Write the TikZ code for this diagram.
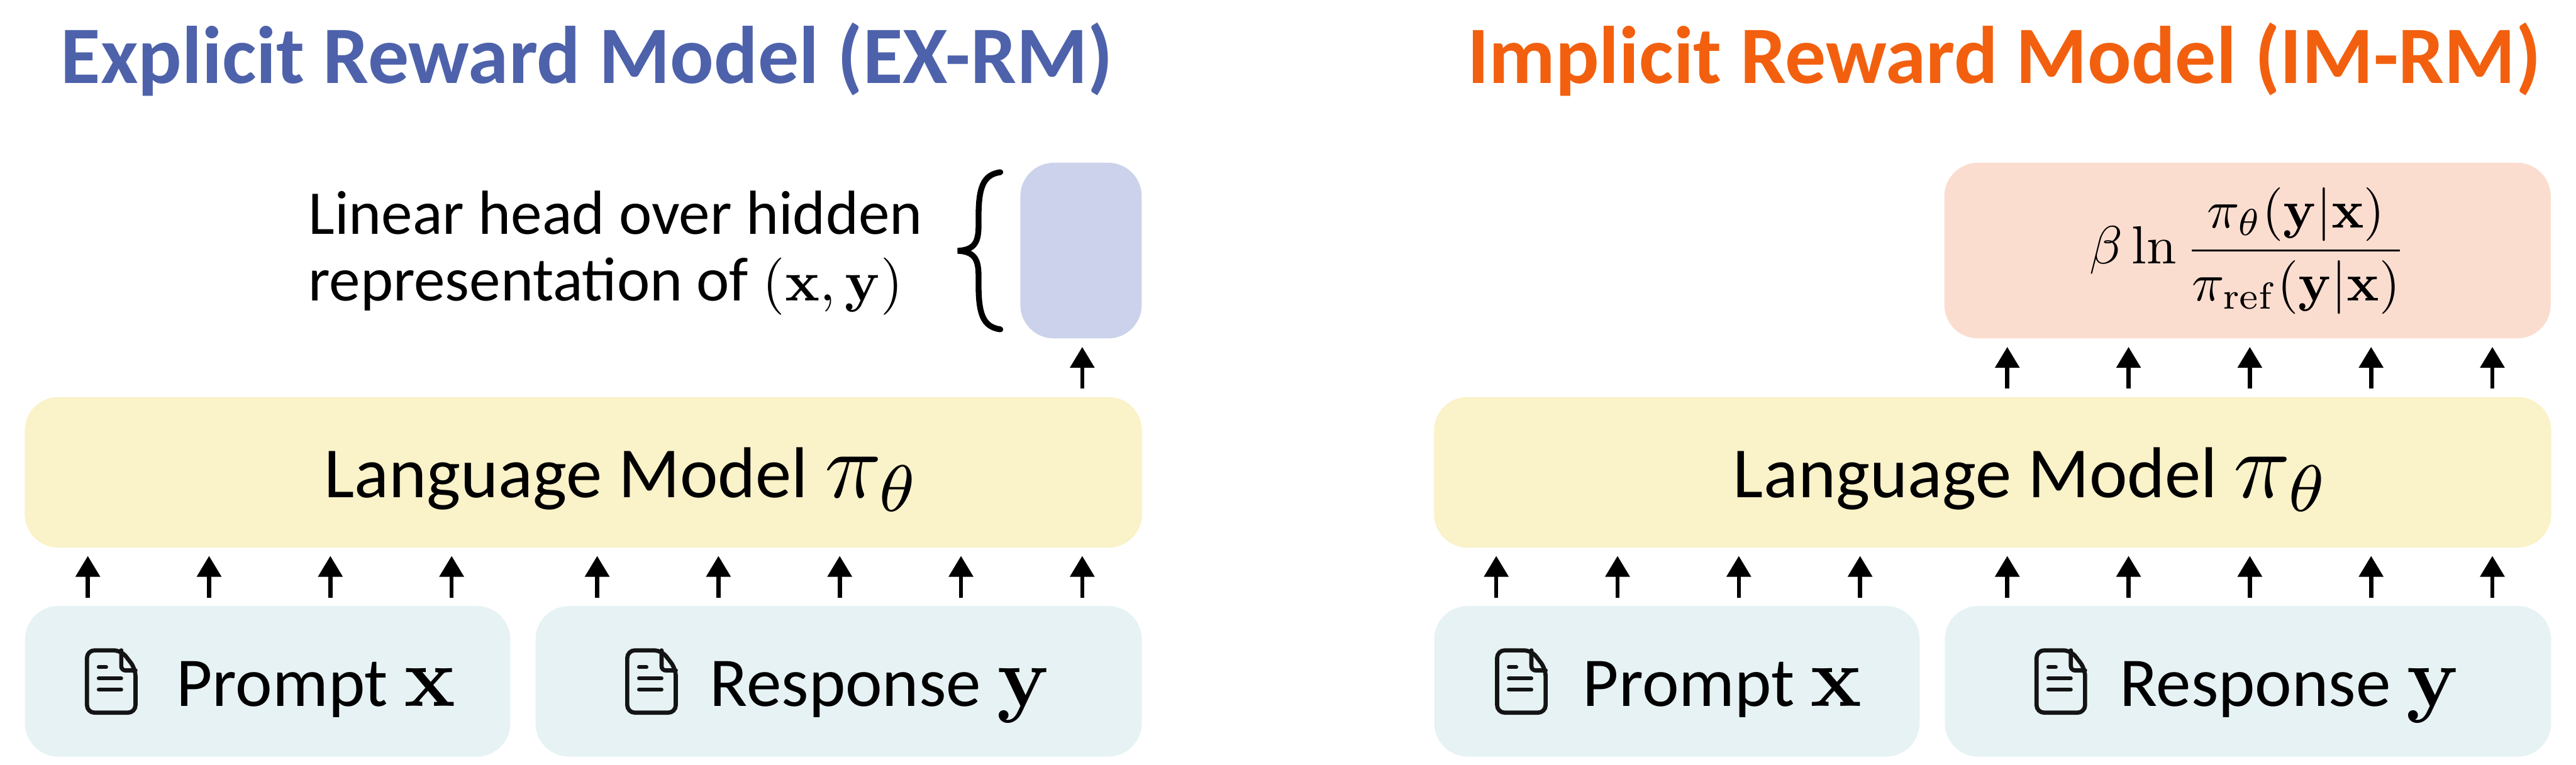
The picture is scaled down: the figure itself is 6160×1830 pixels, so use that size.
\documentclass[tikz,border=0pt]{standalone}
\usepackage[no-math]{fontspec}
\usepackage{amsmath}
\usepackage{graphicx}
\setmainfont{Carlito}
\usetikzlibrary{arrows.meta}
\definecolor{blueT}{HTML}{4E62AB}
\definecolor{orangeT}{HTML}{F2600F}
\definecolor{blueB}{HTML}{CCD2EB}
\definecolor{yellowB}{HTML}{FAF2C8}
\definecolor{tealB}{HTML}{E6F2F4}
\definecolor{peachB}{HTML}{FBDDD0}
\newcommand{\mscale}[2]{\scalebox{#1}{\fontsize{10}{12}\selectfont$\displaystyle #2$}}
\tikzset{
  box/.style={rounded corners=0.8cm,inner sep=0pt,minimum width=#1},
  yellowbox/.style={box=26.7cm,fill=yellowB,minimum height=3.6cm},
  promptbox/.style={box=11.6cm,fill=tealB,minimum height=3.6cm},
  respbox/.style={box=14.49cm,fill=tealB,minimum height=3.6cm},
  lbl/.style={anchor=base west,inner sep=0pt,font=\fontsize{47.5}{56}\selectfont},
  mdl/.style={anchor=base west,inner sep=0pt,font=\fontsize{49}{58}\selectfont},
  ttl/.style={anchor=base west,inner sep=0pt,font=\fontsize{55.5}{66}\selectfont\bfseries},
  hd/.style={anchor=base west,inner sep=0pt,font=\fontsize{42.4}{50}\selectfont},
  arr/.style={line width=0.1cm,-{Triangle[length=0.5cm,width=0.57cm]}},
  ico/.style={line width=0.1cm,color=black!92,line join=round,line cap=round},
  doc/.pic={
    \draw[ico,rounded corners=0.18cm] (0,0) -- (82,0) -- (116,44) -- (116,149) -- (0,149) -- cycle;
    \draw[ico,rounded corners=0.1cm] (82,0) -- (82,48) -- (116,48);
    \draw[ico,line width=0.09cm] (28,40) -- (46,40);
    \draw[ico,line width=0.09cm] (28,67) -- (82,67);
    \draw[ico,line width=0.09cm] (28,94) -- (82,94);
  }
}
\begin{document}
\begin{tikzpicture}[x=0.01cm,y=-0.01cm]
\useasboundingbox (0,0) rectangle (6160,1830);
% titles
\node[ttl,text=blueT] (t1) at (145,200) {Explicit Reward Model (EX-RM)};
\node[ttl,text=orangeT] (t2) at (3508,200) {Implicit Reward Model (IM-RM)};
% left panel
\node[box=2.9cm,fill=blueB,minimum height=4.2cm] (lhead) at (2585,599.5) {};
\node[yellowbox] (lmodel) at (1395,1130) {};
\node[promptbox] (lprompt) at (640,1630) {};
\node[respbox] (lresp) at (2005.5,1630) {};
% right panel
\node[box=14.49cm,fill=peachB,minimum height=4.2cm] (rhead) at (5374.5,599.5) {};
\node[yellowbox] (rmodel) at (4765,1130) {};
\node[promptbox] (rprompt) at (4010,1630) {};
\node[respbox] (rresp) at (5375.5,1630) {};
% labels
\node[hd] (h1) at (737,560) {Linear head over hidden};
\node[hd] (h2) at (737,719) {representation of \mscale{3.9}{(\mathbf{x},\mathbf{y})}};
\node[inner sep=0pt] (frac) at (5376,600) {\mscale{3.65}{\beta\ln\frac{\pi_\theta(\mathbf{y}|\mathbf{x})}{\pi_{\mathrm{ref}}(\mathbf{y}|\mathbf{x})}}};
\node[mdl] (m1) at (774,1190) {Language Model \mscale{6.4}{\pi_\theta}};
\node[mdl] (m2) at (4144,1190) {Language Model \mscale{6.4}{\pi_\theta}};
\node[lbl] (p1) at (421,1690) {Prompt \mscale{5.8}{\mathbf{x}}};
\node[lbl] (r1) at (1697,1690) {Response \mscale{5.8}{\mathbf{y}}};
\node[lbl] (p2) at (3784,1690) {Prompt \mscale{5.8}{\mathbf{x}}};
\node[lbl] (r2) at (5068,1690) {Response \mscale{5.8}{\mathbf{y}}};
% document icons
\pic at (208,1556) {doc};
\pic at (1500,1556) {doc};
\pic at (3580,1556) {doc};
\pic at (4870,1556) {doc};
% brace
\draw[line width=0.14cm,line cap=round] (2392,412)
  .. controls (2350,418) and (2340,450) .. (2340,520)
  -- (2340,540) .. controls (2340,580) and (2330,598) .. (2290,600)
  .. controls (2330,602) and (2340,620) .. (2340,660)
  -- (2340,680) .. controls (2340,750) and (2350,782) .. (2392,788);
% connectors
\foreach \x [count=\i] in {210,500,790,1080,1428,1718,2008,2298,2588}{
  \coordinate (la\i) at (\x,1430);
  \coordinate (lb\i) at (\x,1330);
  \draw[arr] (la\i) -- (lb\i);
}
\foreach \x [count=\i] in {3578,3868,4158,4448,4800,5090,5380,5670,5960}{
  \coordinate (ra\i) at (\x,1430);
  \coordinate (rb\i) at (\x,1330);
  \draw[arr] (ra\i) -- (rb\i);
}
\coordinate (ua) at (2588,930);
\coordinate (ub) at (2588,830);
\draw[arr] (ua) -- (ub);
\foreach \x [count=\i] in {4800,5090,5380,5670,5960}{
  \coordinate (va\i) at (\x,930);
  \coordinate (vb\i) at (\x,830);
  \draw[arr] (va\i) -- (vb\i);
}
\end{tikzpicture}
\end{document}
